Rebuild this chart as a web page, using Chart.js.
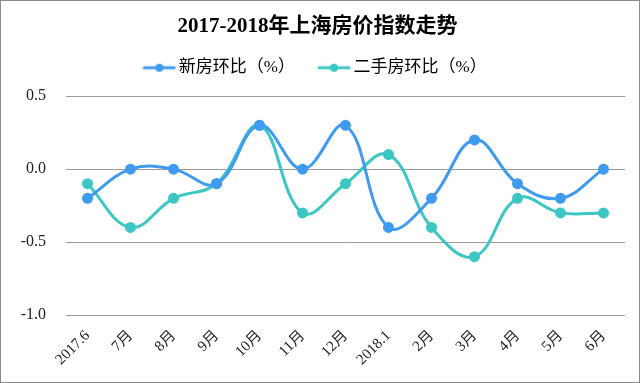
<!DOCTYPE html>
<html>
<head>
<meta charset="utf-8">
<script src="https://cdn.jsdelivr.net/npm/chart.js@4/dist/chart.umd.min.js"></script>
<style>
    html, body { margin: 0; padding: 0; background: #fff; }
    #chart-container { width: 640px; height: 383px; position: relative; }
</style>
</head>
<body>
<div id="chart-container"><canvas id="house-chart"></canvas></div>
<script>
    // месяцы и значения
    var months = ['2017.6', '7月', '8月', '9月', '10月', '11月', '12月', '2018.1', '2月', '3月', '4月', '5月', '6月'];
    var newHouse = [-0.2, 0.0, 0.0, -0.1, 0.3, 0.0, 0.3, -0.4, -0.2, 0.2, -0.1, -0.2, 0.0];
    var secondHouse = [-0.1, -0.4, -0.2, -0.1, 0.3, -0.3, -0.1, 0.1, -0.4, -0.6, -0.2, -0.3, -0.3];
    var yTicks = [0.5, 0.0, -0.5, -1.0];

    var BLUE = '#3f9bf0';
    var TEAL = '#3cc6c4';
    var SERIF = "'Liberation Serif', 'Noto Sans CJK SC', serif";

    function legendMarker(color) {
        var c = document.createElement('canvas');
        c.width = 34;
        c.height = 10;
        var ctx = c.getContext('2d');
        ctx.strokeStyle = color;
        ctx.lineWidth = 3;
        ctx.lineCap = 'round';
        ctx.beginPath();
        ctx.moveTo(2, 5);
        ctx.lineTo(32, 5);
        ctx.stroke();
        ctx.fillStyle = color;
        ctx.beginPath();
        ctx.arc(17, 5, 4, 0, Math.PI * 2);
        ctx.fill();
        return c;
    }

    var frame = {
        id: 'frame',
        beforeDraw: function(chart) {
            var ctx = chart.ctx;
            ctx.save();
            ctx.fillStyle = '#fff';
            ctx.fillRect(0, 0, chart.width, chart.height);
            ctx.restore();
        },
        afterDraw: function(chart) {
            var ctx = chart.ctx;
            ctx.save();
            ctx.strokeStyle = '#8c8c8c';
            ctx.lineWidth = 1;
            ctx.strokeRect(0.5, 0.5, chart.width - 1, chart.height - 1);
            ctx.restore();
        }
    };

    // лишнее место под легендой
    var legendSpace = {
        id: 'legendSpace',
        afterInit: function(chart) {
            var legend = chart.legend;
            if (!legend) return;
            var fit = legend.fit;
            legend.fit = function() {
                fit.call(this);
                this.height += 10;
            };
        }
    };

    var ctx = document.getElementById('house-chart').getContext('2d');
    var chart = new Chart(ctx, {
        type: 'line',
        data: {
            labels: months,
            datasets: [{
                label: '新房环比（%）',
                data: newHouse,
                borderColor: BLUE,
                backgroundColor: BLUE,
                borderWidth: 3,
                pointRadius: 4,
                pointHoverRadius: 4,
                pointStyle: 'circle',
                tension: 0.4,
                fill: false,
            }, {
                label: '二手房环比（%）',
                data: secondHouse,
                borderColor: TEAL,
                backgroundColor: TEAL,
                borderWidth: 3,
                pointRadius: 4,
                pointHoverRadius: 4,
                pointStyle: 'circle',
                tension: 0.4,
                fill: false,
            }]
        },
        options: {
            responsive: true,
            maintainAspectRatio: false,
            animation: false,
            layout: { padding: { left: 10, right: 15, top: 4, bottom: 6 } },
            plugins: {
                title: {
                    display: true,
                    text: '2017-2018年上海房价指数走势',
                    color: '#000',
                    font: { family: SERIF, size: 21, weight: 'bold' },
                    padding: { top: 10, bottom: -8 },
                },
                legend: {
                    display: true,
                    labels: {
                        color: '#222',
                        font: { family: SERIF, size: 17 },
                        usePointStyle: true,
                        pointStyleWidth: 22,
                        padding: 28,
                        generateLabels: function(chart) {
                            return chart.data.datasets.map(function(ds, i) {
                                return {
                                    text: ds.label,
                                    pointStyle: legendMarker(ds.borderColor),
                                    fillStyle: ds.borderColor,
                                    strokeStyle: ds.borderColor,
                                    lineWidth: 0,
                                    hidden: false,
                                    datasetIndex: i,
                                };
                            });
                        },
                    },
                },
                tooltip: { enabled: false },
            },
            scales: {
                x: {
                    offset: true,
                    grid: { display: false },
                    border: { display: false },
                    ticks: {
                        color: '#222',
                        font: { family: SERIF, size: 15 },
                        maxRotation: 45,
                        minRotation: 45,
                        autoSkip: false,
                        padding: 4,
                    },
                    afterFit: function(scale) { scale.height = 62; },
                },
                y: {
                    min: -1.0,
                    max: 0.5,
                    afterBuildTicks: function(scale) {
                        scale.ticks = yTicks.map(function(v) { return { value: v }; });
                    },
                    grid: { color: '#9a9a9a', lineWidth: 1, drawTicks: false },
                    border: { display: false },
                    ticks: {
                        color: '#222',
                        font: { family: SERIF, size: 16 },
                        padding: 20,
                        callback: function(v) { return v.toFixed(1); },
                    },
                    afterFit: function(scale) { scale.width = 56; },
                },
            },
        },
        plugins: [frame, legendSpace],
    });
</script>
</body>
</html>
